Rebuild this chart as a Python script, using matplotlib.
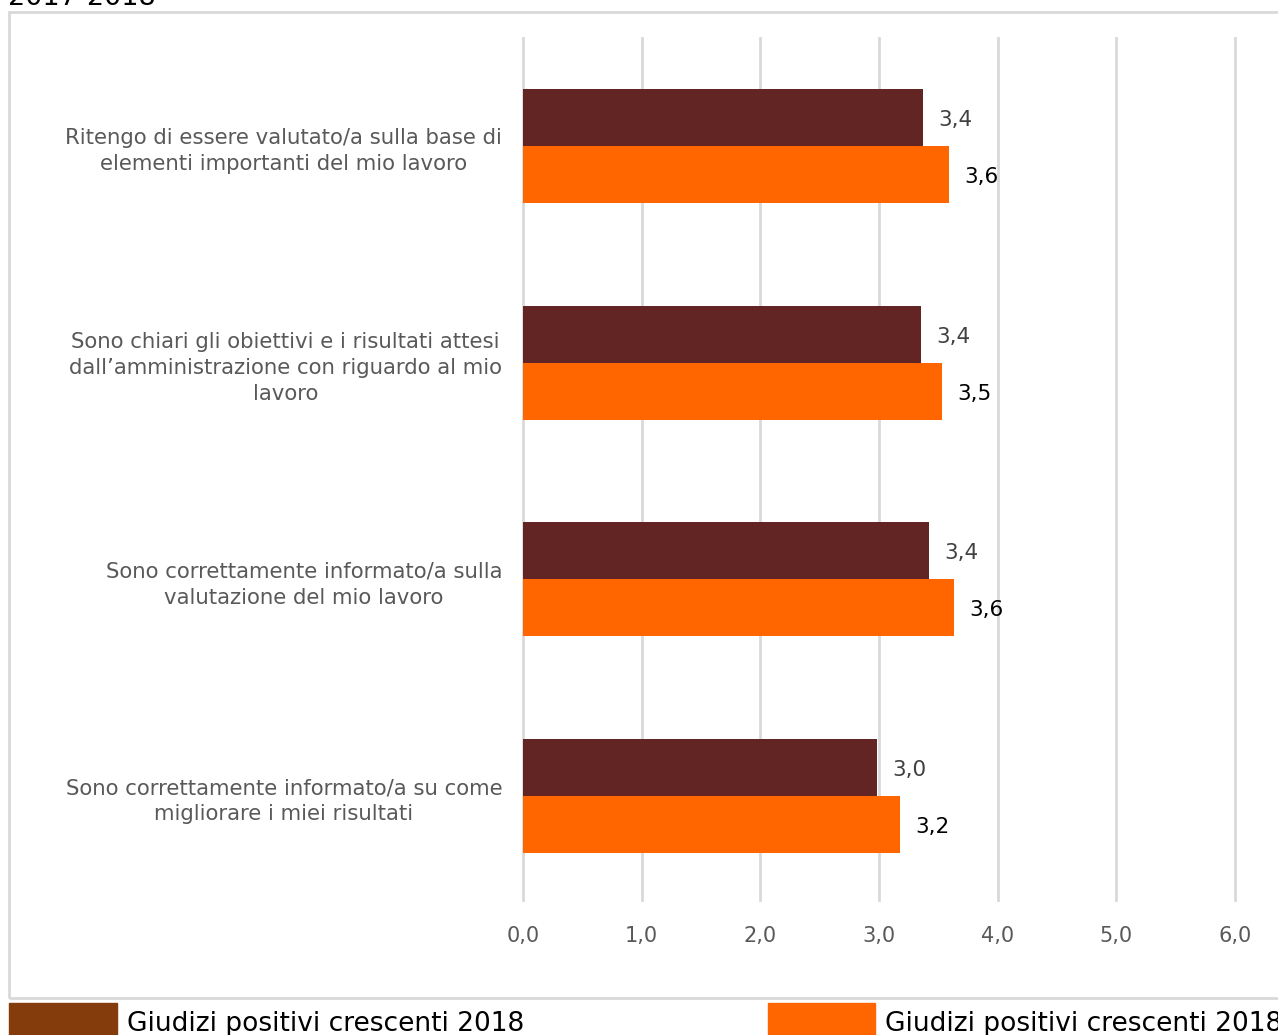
import matplotlib.pyplot as plt
from matplotlib.patches import Rectangle

categories = [
    "Ritengo di essere valutato/a sulla base di\nelementi importanti del mio lavoro",
    "Sono chiari gli obiettivi e i risultati attesi\ndall\u2019amministrazione con riguardo al mio\nlavoro",
    "Sono correttamente informato/a sulla\nvalutazione del mio lavoro",
    "Sono correttamente informato/a su come\nmigliorare i miei risultati",
]
series_names = ["Giudizi positivi crescenti 2018", "Giudizi positivi crescenti 2018"]
values_dark = [3.37, 3.35, 3.42, 2.98]
values_orange = [3.59, 3.53, 3.63, 3.18]
xticks = [0, 1, 2, 3, 4, 5, 6]
title = "2017-2018"

bar_dark = "#632523"
legend_dark = "#843C0C"
orange = "#FF6600"
grid_col = "#D9D9D9"
text_gray = "#595959"

fig = plt.figure(figsize=(12.78, 10.35), dpi=100)
ax = fig.add_axes([523 / 1278, 1 - 900 / 1035, (1235 - 523) / 1278, (900 - 38) / 1035])

h = 0.263
ypos = list(range(len(categories)))
ax.barh([y - h / 2 for y in ypos], values_dark, height=h, color=bar_dark)
ax.barh([y + h / 2 for y in ypos], values_orange, height=h, color=orange)

for y, v in zip(ypos, values_dark):
    ax.text(v + 0.13, y - h / 2 + 0.01, f"{v:.1f}".replace(".", ","), va="center", ha="left",
            fontsize=15.5, color="#404040")
for y, v in zip(ypos, values_orange):
    ax.text(v + 0.13, y + h / 2 + 0.01, f"{v:.1f}".replace(".", ","), va="center", ha="left",
            fontsize=15.5, color="black")

ax.set_xlim(0, 6)
ax.set_ylim(3.48, -0.5)
ax.set_xticks(xticks)
ax.set_xticklabels([f"{t:.1f}".replace(".", ",") for t in xticks], fontsize=15, color=text_gray)
ax.tick_params(axis="x", length=0, pad=19)
ax.set_yticks(ypos)
ax.set_yticklabels(categories, fontsize=15.3, color=text_gray, multialignment="center",
                   linespacing=1.38)
ax.tick_params(axis="y", length=0, pad=15)
ax.grid(axis="x", color=grid_col, linewidth=2)
for gl in ax.get_xgridlines():
    gl.set_clip_on(False)
ax.set_axisbelow(True)
for s in ax.spines.values():
    s.set_visible(False)

# outer frame of the chart area
fig.add_artist(Rectangle((9 / 1278, 1 - 998 / 1035), 1.0, (998 - 12) / 1035,
                         transform=fig.transFigure, fill=False, edgecolor=grid_col,
                         linewidth=2, clip_on=False))

# title cut at top
fig.text(8 / 1278, 1 - 5 / 1035, title, fontsize=19.5, va="baseline", ha="left", color="black")

# legend at the bottom
for x0, x1, col, name in [(9, 117, legend_dark, series_names[0]), (768, 875, orange, series_names[1])]:
    fig.add_artist(Rectangle((x0 / 1278, 0), (x1 - x0) / 1278, (1035 - 1003) / 1035,
                             transform=fig.transFigure, color=col))
    fig.text((x1 + 10) / 1278, 1 - 1031 / 1035, name, fontsize=19, va="baseline", ha="left",
             color="black")

fig.savefig("out.png", dpi=100)
